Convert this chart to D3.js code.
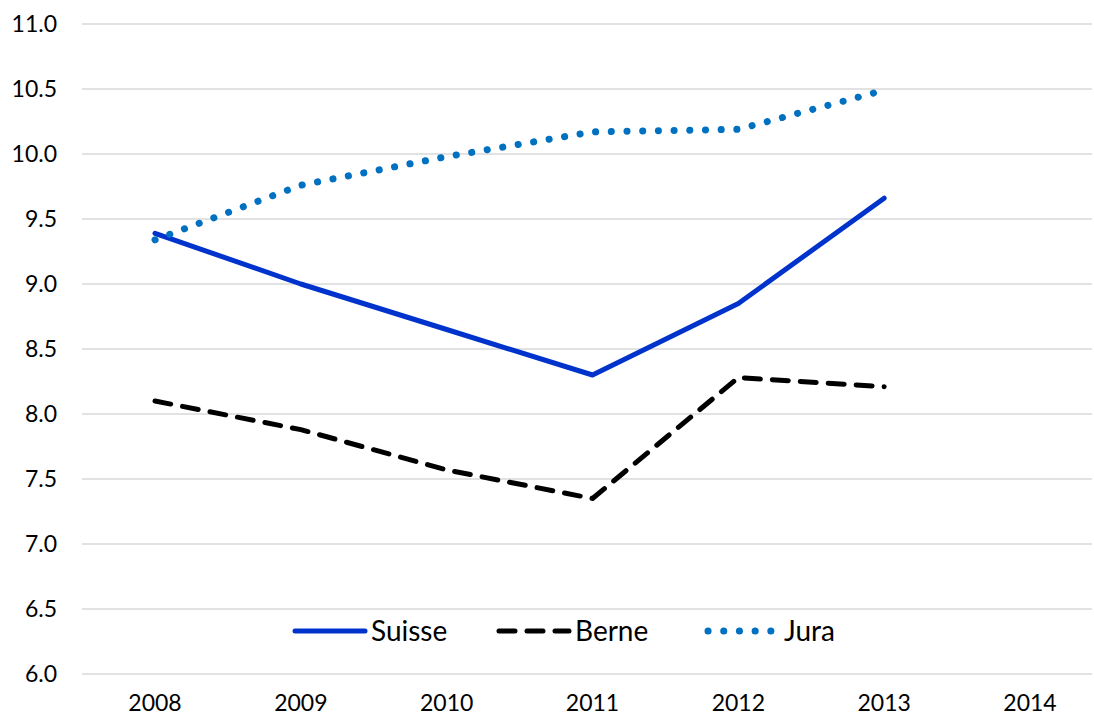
<!DOCTYPE html>
<html><head><meta charset="utf-8">
<script src="https://cdn.jsdelivr.net/npm/d3@7"></script>
<style>body{margin:0;background:#fff}svg{display:block}text{font-family:Lato,"Open Sans",sans-serif;fill:#000}</style>
</head><body><svg id="c" width="1094" height="718"></svg>
<script>
const years = ["2008","2009","2010","2011","2012","2013","2014"];
const yTicks = [6.0,6.5,7.0,7.5,8.0,8.5,9.0,9.5,10.0,10.5,11.0];
const suisse = [9.39, 9.00, 8.65, 8.30, 8.85, 9.66];
const berne = [8.10, 7.88, 7.57, 7.35, 8.28, 8.21];
const jura = [9.34, 9.76, 9.98, 10.17, 10.19, 10.49];
const seriesNames = ["Suisse","Berne","Jura"];

const svg = d3.select("#c");
const x = d3.scalePoint().domain(years).range([155,1030]);
const y = d3.scaleLinear().domain([6,11]).range([674,24]);
const gridLeft = 82, gridRight = 1092;

svg.append("g").selectAll("line").data(yTicks).join("line")
  .attr("x1",gridLeft).attr("x2",gridRight)
  .attr("y1",d=>y(d)).attr("y2",d=>y(d))
  .attr("stroke","#d9d9d9").attr("stroke-width",1.5);

svg.append("g").selectAll("text").data(yTicks).join("text")
  .attr("x",57).attr("y",d=>y(d)).attr("dy","0.35em")
  .attr("text-anchor","end").attr("font-size",23)
  .text(d=>d.toFixed(1));

svg.append("g").selectAll("text").data(years).join("text")
  .attr("x",d=>x(d)).attr("y",711).attr("text-anchor","middle").attr("font-size",23)
  .text(d=>d);

const styles = {
  Suisse:{color:"#0033cc", w:5, dash:null, cap:"round"},
  Berne:{color:"#000", w:5, dash:"16 12", cap:"round"},
  Jura:{color:"#0070c0", w:7, dash:"0.1 15.6", cap:"round"}
};
const data = {Suisse:suisse, Berne:berne, Jura:jura};
const line = d3.line().x((d,i)=>x(years[i])).y(d=>y(d));
seriesNames.forEach(n=>{
  const s = styles[n];
  svg.append("path").datum(data[n]).attr("d",line)
    .attr("fill","none").attr("stroke",s.color).attr("stroke-width",s.w)
    .attr("stroke-linecap",s.cap).attr("stroke-linejoin","round")
    .attr("stroke-dasharray",s.dash);
});

// legend
const legX = [295, 499, 708];
const ly = 631;
seriesNames.forEach((n,i)=>{
  const s = styles[n];
  svg.append("line").attr("x1",legX[i]).attr("x2",legX[i]+70).attr("y1",ly).attr("y2",ly)
    .attr("stroke",s.color).attr("stroke-width",s.w).attr("stroke-linecap",s.cap)
    .attr("stroke-dasharray",s.dash);
  svg.append("text").attr("x",legX[i]+76).attr("y",ly).attr("dy","0.36em")
    .attr("font-size",28).text(n);
});
</script></body></html>
